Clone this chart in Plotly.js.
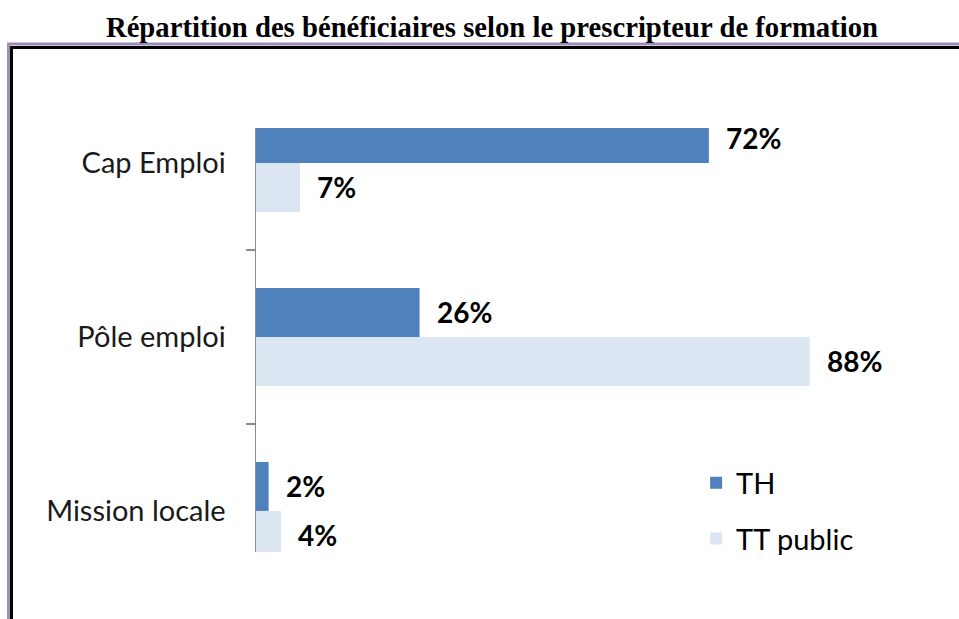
<!DOCTYPE html>
<html>
<head>
<meta charset="utf-8">
<script src="https://cdn.plot.ly/plotly-3.0.1.min.js"></script>
<style>
  html, body { margin: 0; padding: 0; background: #fff; }
  #chart { width: 959px; height: 619px; }
</style>
</head>
<body>
<div id="chart"></div>
<script>
// Répartition des bénéficiaires selon le prescripteur de formation
const categories = ['Cap Emploi', 'Pôle emploi', 'Mission locale'];
const thValues = [72, 26, 2];
const ttPublicValues = [7, 88, 4];
const seriesNames = ['TH', 'TT public'];
const seriesColors = ['#4f81bd', '#dce6f2'];

// plot area in pixels, used to place the frame drawn around the chart
const W = 959, H = 619;
const M = { l: 256, r: 11, t: 128, b: 67 };
const plotW = W - M.l - M.r;
const plotH = H - M.t - M.b;
const px = x => (x - M.l) / plotW;
const py = y => (H - M.b - y) / plotH;

function frameLine(x0, y0, x1, y1, color, width) {
    return {
        type: 'line', xref: 'paper', yref: 'paper',
        x0: px(x0), y0: py(y0), x1: px(x1), y1: py(y1),
        line: { color: color, width: width },
    };
}

const labelFont = { family: 'Lato, Open Sans, sans-serif', size: 28, color: '#000' };

const annotations = [];
[thValues, ttPublicValues].forEach((vals, s) => {
    vals.forEach((v, i) => {
        annotations.push({
            x: v, y: categories[i], xref: 'x', yref: 'y',
            text: '<b>' + v + '%</b>',
            showarrow: false, xanchor: 'left', yanchor: 'middle',
            xshift: 15, yshift: s === 0 ? 24.5 : -24.5,
            font: labelFont,
        });
    });
});

const traces = [
    {
        type: 'bar', orientation: 'h', name: seriesNames[0],
        x: thValues, y: categories, legendgroup: 'a',
        marker: { color: seriesColors[0] }, hoverinfo: 'skip',
    },
    {
        type: 'bar', orientation: 'h', name: seriesNames[1],
        x: ttPublicValues, y: categories, legendgroup: 'b',
        marker: { color: seriesColors[1] }, hoverinfo: 'skip',
    },
];

const layout = {
    width: W, height: H,
    paper_bgcolor: '#fff', plot_bgcolor: '#fff',
    margin: M,
    title: {
        text: 'Répartition des bénéficiaires selon le prescripteur de formation',
        font: { family: 'Liberation Serif, serif', size: 28.7, color: '#000', weight: 'bold' },
        x: 0.513, xanchor: 'center', y: 0.956, yanchor: 'middle', xref: 'container', yref: 'container',
    },
    barmode: 'group',
    bargap: 0.437, bargroupgap: 0,
    xaxis: {
        range: [0, plotW / 6.29], visible: false, fixedrange: true,
    },
    yaxis: {
        type: 'category', categoryorder: 'array', categoryarray: categories,
        range: [2.236, -0.201],
        showline: true, linecolor: '#8c8c8c', linewidth: 1.5,
        ticks: 'outside', tickson: 'boundaries', ticklen: 9, tickcolor: '#8c8c8c', tickwidth: 1.5,
        ticklabelstandoff: 23,
        showgrid: false, zeroline: false,
        tickfont: { family: 'Lato, Open Sans, sans-serif', size: 29, color: '#1a1a1a' },
    },
    showlegend: true,
    legend: {
        x: 0.636, xanchor: 'left', y: 0.097, yanchor: 'middle',
        traceorder: 'grouped', tracegroupgap: 15,
        font: { family: 'Lato, Open Sans, sans-serif', size: 29, color: '#000' },
        bgcolor: 'rgba(0,0,0,0)',
    },
    annotations: annotations,
    shapes: [
        frameLine(7, 44, W + 5, 44, '#a08cb8', 3),
        frameLine(8.5, 43, 8.5, H + 5, '#a08cb8', 3),
        frameLine(10, 47.5, W + 5, 47.5, '#000', 3),
        frameLine(11.5, 46, 11.5, H + 5, '#000', 3),
    ],
};

Plotly.newPlot('chart', traces, layout, { displayModeBar: false, staticPlot: true });
</script>
</body>
</html>
